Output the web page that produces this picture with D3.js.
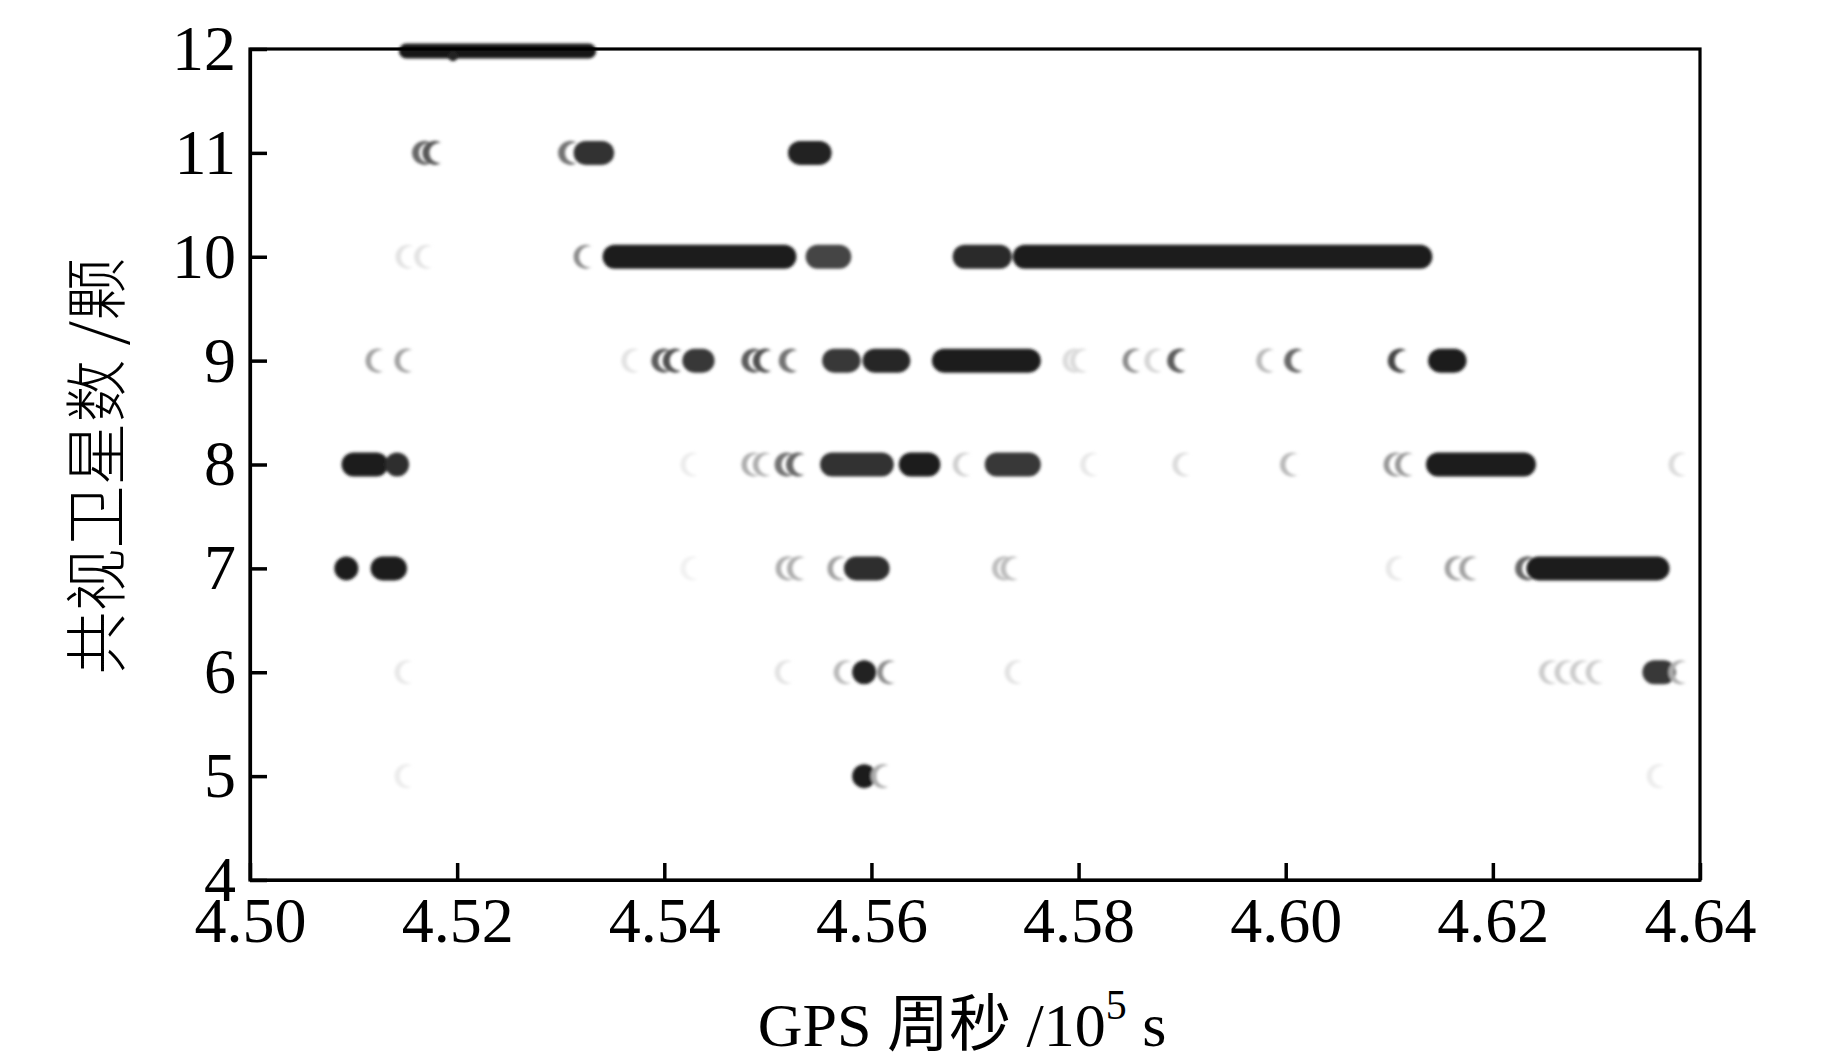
<!DOCTYPE html>
<html><head><meta charset="utf-8">
<script src="https://cdn.jsdelivr.net/npm/d3@7"></script>
<style>body{margin:0;background:#fff}svg{display:block}</style>
</head><body>
<svg id="chart" width="1843" height="1063"></svg>
<script>
// ---- data (GPS week seconds in 1e5 s, visible satellites) ----
const yTicks = [4, 5, 6, 7, 8, 9, 10, 11, 12];
const xTicks = [4.50, 4.52, 4.54, 4.56, 4.58, 4.60, 4.62, 4.64];
// each entry: [start, end, darkness]  (start === end -> single epoch marker)
const sat12 = [[4.5151, 4.5327, 1.0]];
const sat12Drop = [[4.5196, 11.93, 0.95]];
const sat11 = [
  [4.5168, 4.5168, 0.65], [4.5178, 4.5178, 0.72],
  [4.5309, 4.5309, 0.6], [4.5324, 4.5340, 0.88],
  [4.5531, 4.5550, 0.95]
];
const sat10 = [
  [4.5152, 4.5152, 0.12], [4.5170, 4.5170, 0.12],
  [4.5324, 4.5324, 0.5],
  [4.5352, 4.5516, 0.97],
  [4.5548, 4.5569, 0.8],
  [4.5690, 4.5724, 0.92],
  [4.5748, 4.6130, 0.97]
];
const sat9 = [
  [4.5123, 4.5123, 0.4], [4.5151, 4.5151, 0.4],
  [4.5370, 4.5370, 0.12],
  [4.5399, 4.5399, 0.7], [4.5410, 4.5410, 0.75],
  [4.5429, 4.5437, 0.85],
  [4.5486, 4.5486, 0.7], [4.5497, 4.5497, 0.75],
  [4.5522, 4.5522, 0.6],
  [4.5564, 4.5578, 0.85],
  [4.5603, 4.5626, 0.93],
  [4.5670, 4.5752, 0.97],
  [4.5796, 4.5796, 0.15], [4.5803, 4.5803, 0.15],
  [4.5854, 4.5854, 0.5], [4.5875, 4.5875, 0.18], [4.5897, 4.5897, 0.7],
  [4.5983, 4.5983, 0.3], [4.6010, 4.6010, 0.65],
  [4.6110, 4.6110, 0.8], [4.6149, 4.6163, 0.97]
];
const sat8 = [
  [4.5100, 4.5122, 0.97], [4.5142, 4.5142, 0.9],
  [4.5427, 4.5427, 0.08],
  [4.5486, 4.5486, 0.35], [4.5497, 4.5497, 0.35],
  [4.5518, 4.5518, 0.6], [4.5529, 4.5529, 0.65],
  [4.5562, 4.5610, 0.88],
  [4.5638, 4.5655, 0.97],
  [4.5690, 4.5690, 0.2],
  [4.5721, 4.5752, 0.85],
  [4.5813, 4.5813, 0.1], [4.5902, 4.5902, 0.15],
  [4.6006, 4.6006, 0.3],
  [4.6106, 4.6106, 0.45], [4.6117, 4.6117, 0.45],
  [4.6147, 4.6230, 0.97],
  [4.6381, 4.6381, 0.15]
];
const sat7 = [
  [4.5093, 4.5093, 0.97], [4.5128, 4.5140, 0.97],
  [4.5427, 4.5427, 0.06],
  [4.5519, 4.5519, 0.35], [4.5530, 4.5530, 0.35],
  [4.5569, 4.5569, 0.4],
  [4.5585, 4.5606, 0.9],
  [4.5728, 4.5728, 0.28], [4.5736, 4.5736, 0.28],
  [4.6108, 4.6108, 0.1],
  [4.6165, 4.6165, 0.4], [4.6179, 4.6179, 0.4],
  [4.6233, 4.6233, 0.65], [4.6244, 4.6359, 0.97]
];
const sat6 = [
  [4.5151, 4.5151, 0.1],
  [4.5518, 4.5518, 0.12],
  [4.5575, 4.5575, 0.3], [4.5593, 4.5593, 0.95], [4.5617, 4.5617, 0.5],
  [4.5740, 4.5740, 0.12],
  [4.6256, 4.6256, 0.22], [4.6271, 4.6271, 0.22], [4.6286, 4.6286, 0.22], [4.6301, 4.6301, 0.22],
  [4.6356, 4.6365, 0.85], [4.6381, 4.6381, 0.35]
];
const sat5 = [
  [4.5151, 4.5151, 0.08],
  [4.5593, 4.5593, 0.97], [4.5611, 4.5611, 0.35],
  [4.6360, 4.6360, 0.08]
];

// ---- layout ----
const svg = d3.select("#chart");
const L = 250, R = 1700, T = 49, B = 880;
const x = d3.scaleLinear().domain([4.50, 4.64]).range([L, R]);
const y = d3.scaleLinear().domain([4, 12]).range([B, T]);
const tone = d3.interpolateRgb("#ffffff", "#161616");

const table = [
  {n: 12, runs: sat12}, {n: 11, runs: sat11}, {n: 10, runs: sat10},
  {n: 9, runs: sat9}, {n: 8, runs: sat8}, {n: 7, runs: sat7},
  {n: 6, runs: sat6}, {n: 5, runs: sat5}
];

const defs = svg.append("defs");
defs.append("filter").attr("id", "blur")
  .attr("x", "-20%").attr("y", "-50%").attr("width", "140%").attr("height", "200%")
  .append("feGaussianBlur").attr("stdDeviation", 1.6);

const marks = svg.append("g").attr("filter", "url(#blur)");
const crescentThin = "M6.22,-10.26A12,12 0 1 0 6.22,10.26A10.5,10.5 0 1 1 6.22,-10.26Z";
const crescentThick = "M6.9,-9.82A12,12 0 1 0 6.9,9.82A10,10 0 1 1 6.9,-9.82Z";

table.forEach(row => {
  const r = row.n === 12 ? 7.5 : 12;
  const cy = y(row.n) + (row.n === 12 ? 2 : 0);
  row.runs.forEach(([s, e, d]) => {
    if (s === e) {
      if (d >= 0.85) {
        marks.append("circle").attr("cx", x(s)).attr("cy", cy).attr("r", r)
          .attr("fill", tone(d));
      } else {
        marks.append("path").attr("d", d >= 0.55 ? crescentThick : crescentThin)
          .attr("transform", `translate(${x(s)},${cy})`)
          .attr("fill", tone(d));
      }
    } else {
      marks.append("rect")
        .attr("x", x(s) - r).attr("y", cy - r)
        .attr("width", x(e) - x(s) + 2 * r).attr("height", 2 * r)
        .attr("rx", r).attr("ry", r)
        .attr("fill", tone(d));
    }
  });
});
sat12Drop.forEach(([px, py, d]) => {
  marks.append("circle").attr("cx", x(px)).attr("cy", y(py)).attr("r", 5).attr("fill", tone(d));
});

// ---- frame and axes ----
const font = "'Liberation Serif','Times New Roman',serif";
svg.append("rect").attr("x", L).attr("y", T).attr("width", R - L).attr("height", B - T)
  .attr("fill", "none").attr("stroke", "#000").attr("stroke-width", 3.2);

const gy = svg.append("g").attr("transform", `translate(${L},0)`)
  .call(d3.axisLeft(y).tickValues(yTicks).tickFormat(d3.format("d"))
    .tickSize(-17).tickSizeOuter(0).tickPadding(14));
const gx = svg.append("g").attr("transform", `translate(0,${B})`)
  .call(d3.axisBottom(x).tickValues(xTicks).tickFormat(d3.format(".2f"))
    .tickSize(-17).tickSizeOuter(0).tickPadding(17));
[gy, gx].forEach(g => {
  g.select(".domain").attr("stroke-width", 3.2);
  g.selectAll(".tick line").attr("stroke-width", 3.5);
  g.selectAll(".tick text").attr("font-family", font).attr("font-size", 64).attr("fill", "#000");
});

// axis titles
const xt = svg.append("text").attr("x", 962).attr("y", 1046).attr("text-anchor", "middle")
  .attr("font-family", "'Liberation Serif','Noto Sans CJK SC',serif").attr("font-size", 62).attr("fill", "#000");
xt.append("tspan").text("GPS 周秒 /10");
xt.append("tspan").attr("font-size", 42).attr("dy", -27).text("5");
xt.append("tspan").attr("dy", 27).text(" s");

svg.append("text").attr("transform", "translate(119,466) rotate(-90)")
  .attr("text-anchor", "middle")
  .attr("font-family", "'Noto Sans CJK SC','Liberation Serif',serif")
  .attr("font-size", 63).attr("font-weight", 300).attr("fill", "#000")
  .text("共视卫星数 /颗");
</script>
</body></html>
